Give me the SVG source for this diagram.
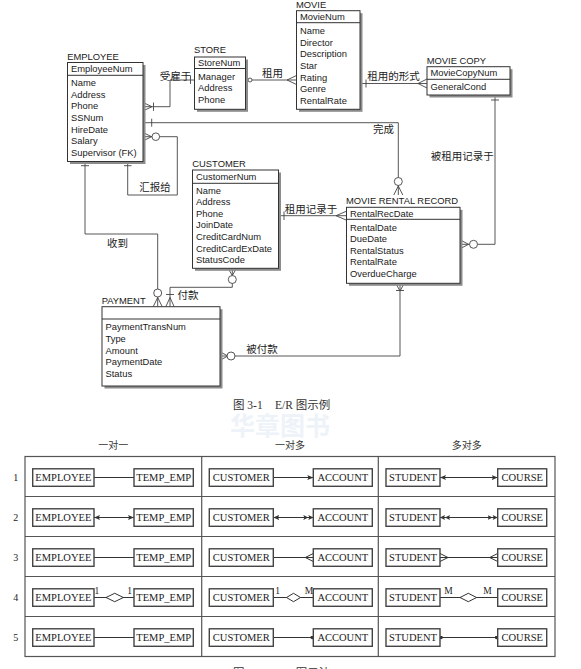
<svg xmlns="http://www.w3.org/2000/svg" width="581" height="669" viewBox="0 0 581 669">
<style>
.bg{fill:#fff}
.sh{fill:#8c8c8c}
.box{fill:#fff;stroke:#333;stroke-width:1}
.dv{stroke:#333;stroke-width:1}
.en{font-family:"Liberation Sans",Arial,sans-serif;font-size:9.4px;fill:#1a1a1a}
.lb{font-family:"Liberation Serif","Noto Sans CJK SC",serif;font-size:10.5px;fill:#222;text-anchor:middle}
.ln{fill:none;stroke:#444;stroke-width:0.9}
.mk{fill:none;stroke:#444;stroke-width:0.9}
.ci{fill:#fff;stroke:#444;stroke-width:0.9}
.tb{fill:none;stroke:#555;stroke-width:1.2}
.tbox{fill:#fff;stroke:#444;stroke-width:1.4}
.tt{font-family:"Liberation Serif","Times New Roman",serif;font-size:10.5px;fill:#1a1a1a;text-anchor:middle}
.hd{font-family:"Noto Sans CJK SC",sans-serif;font-size:10px;fill:#333;text-anchor:middle}
.num{font-family:"Liberation Serif",serif;font-size:10px;fill:#222;text-anchor:middle}
.tl{fill:none;stroke:#333;stroke-width:1}
.dm{fill:#fff;stroke:#333;stroke-width:1}
.sm{font-family:"Liberation Serif",serif;font-size:9.5px;fill:#222;text-anchor:middle}
.cap{font-family:"Liberation Serif","Noto Sans CJK SC",serif;font-size:11.5px;fill:#333}
.wm{font-family:"Noto Sans CJK SC",sans-serif;font-size:25px;font-weight:bold;fill:#eef3f9;text-anchor:middle}
</style>
<defs>
<marker id="arr" viewBox="0 0 6 5" refX="6" refY="2.5" markerWidth="6" markerHeight="5" markerUnits="userSpaceOnUse" orient="auto-start-reverse"><path d="M0,0 L6,2.5 L0,5 L1.2,2.5 z" fill="#333"/></marker>
<marker id="arr2" viewBox="0 0 10 5" refX="10" refY="2.5" markerWidth="10" markerHeight="5" markerUnits="userSpaceOnUse" orient="auto-start-reverse"><path d="M0,0 L5,2.5 L0,5 L1,2.5 z M5,0 L10,2.5 L5,5 L6,2.5 z" fill="#333"/></marker>
<marker id="crow" viewBox="0 0 8 9" refX="8" refY="4.5" markerWidth="8" markerHeight="9" markerUnits="userSpaceOnUse" orient="auto-start-reverse"><path d="M0,4.5 L8,0.5 M0,4.5 L8,4.5 M0,4.5 L8,8.5" fill="none" stroke="#333" stroke-width="1"/></marker>
<marker id="dot" viewBox="0 0 4 4" refX="3" refY="2" markerWidth="4" markerHeight="4" markerUnits="userSpaceOnUse" orient="auto-start-reverse"><circle cx="2" cy="2" r="1.8" fill="#333"/></marker>
</defs>
<rect class="bg" x="0" y="0" width="581" height="669"/>
<text class="wm" x="280" y="435">华章图书</text>

<g id="connectors">
<path class="ln" d="M143,106.7 H170 V80 H194.5"/>
<path class="mk" d="M152,106.7 L143,102.5 M152,106.7 L143,110.9 M153.5,102.5 V110.9 M190.5,76 V84"/>
<path class="ln" d="M245.7,80 H296.5"/>
<circle class="ci" cx="250" cy="80" r="2"/>
<path class="mk" d="M287,80 L296.5,75.5 M287,80 L296.5,84.5"/>
<path class="ln" d="M360,83.5 H427"/>
<path class="mk" d="M366,79.5 V87.5 M418,83.5 L427,79 M418,83.5 L427,88"/>
<path class="ln" d="M143,122.7 H398.3 V195"/>
<path class="mk" d="M151.7,118.7 V126.7 M398.3,186 L393.8,195 M398.3,186 L402.8,195"/>
<circle class="ci" cx="398.3" cy="181.5" r="4"/>
<path class="ln" d="M143,136.7 H177.3 V195 H127.7 V161"/>
<path class="mk" d="M151.5,136.7 L143,132.5 M151.5,136.7 L143,140.9 M124,165.7 H131.5"/>
<circle class="ci" cx="155.8" cy="136.7" r="3.8"/>
<path class="ln" d="M85,161 V234 H157.7 V306.7"/>
<path class="mk" d="M81,165.7 H89 M157.7,297.5 L153.2,306.7 M157.7,297.5 L162.2,306.7"/>
<circle class="ci" cx="157.7" cy="293" r="4"/>
<path class="ln" d="M232.3,268.3 V287.3 H170 V306.7"/>
<path class="mk" d="M232.3,275.5 L228.1,268.3 M232.3,275.5 L236.5,268.3 M166,294.5 H174 M170,297.5 L165.8,306.7 M170,297.5 L174.2,306.7"/>
<circle class="ci" cx="232.3" cy="279.5" r="4"/>
<path class="ln" d="M220,356 H400 V283.3"/>
<path class="mk" d="M228,356 L220,351.8 M228,356 L220,360.2 M400,291 L395.8,283.3 M400,291 L404.2,283.3 M396,290.5 H404"/>
<circle class="ci" cx="231" cy="356" r="4"/>
<path class="ln" d="M278.3,215.7 H346.5"/>
<path class="mk" d="M284,211.5 V220 M336,215.7 L346.5,211.2 M336,215.7 L346.5,220.2"/>
<path class="ln" d="M495,95 V244.3 H460"/>
<path class="mk" d="M491,100 H499 M468.5,244.3 L460,239.8 M468.5,244.3 L460,248.8"/>
<circle class="ci" cx="473.5" cy="244.3" r="4"/>

<g id="table-links">
<path class="tl" d="M94,477.5 H134"/>
<path class="tl" d="M273.3,477.5 H313.3" marker-end="url(#arr)"/>
<path class="tl" d="M440,477.5 H497.7" marker-start="url(#arr)" marker-end="url(#arr)"/>
<path class="tl" d="M94,517.5 H134" marker-start="url(#arr)" marker-end="url(#arr)"/>
<path class="tl" d="M273.3,517.5 H313.3" marker-start="url(#arr)" marker-end="url(#arr2)"/>
<path class="tl" d="M440,517.5 H497.7" marker-start="url(#arr2)" marker-end="url(#arr2)"/>
<path class="tl" d="M94,557.5 H134"/>
<path class="tl" d="M273.3,557.5 H313.3" marker-end="url(#crow)"/>
<path class="tl" d="M440,557.5 H497.7" marker-start="url(#crow)" marker-end="url(#crow)"/>
<path class="tl" d="M94,597.5 H134"/>
<path class="dm" d="M106,597.5 L114.7,593.3 L123.4,597.5 L114.7,601.7 z"/>
<path class="tl" d="M273.3,597.5 H313.3"/>
<path class="dm" d="M286.5,597.5 L293.5,593.3 L300.5,597.5 L293.5,601.7 z"/>
<path class="tl" d="M440,597.5 H497.7"/>
<path class="dm" d="M460,597.5 L468.3,593.3 L476.6,597.5 L468.3,601.7 z"/>
<path class="tl" d="M94,637.5 H134"/>
<path class="tl" d="M273.3,637.5 H313.3" marker-end="url(#dot)"/>
<path class="tl" d="M440,637.5 H497.7" marker-start="url(#dot)" marker-end="url(#dot)"/>
</g>
</g>

<g id="rel-labels">
<text class="lb" x="175.5" y="80">受雇于</text>
<text class="lb" x="272.5" y="77">租用</text>
<text class="lb" x="393.5" y="79.8">租用的形式</text>
<text class="lb" x="383.5" y="132.8">完成</text>
<text class="lb" x="155" y="191">汇报给</text>
<text class="lb" x="117.5" y="247">收到</text>
<text class="lb" x="188" y="298.8">付款</text>
<text class="lb" x="262" y="352.8">被付款</text>
<text class="lb" x="311" y="212.8">租用记录于</text>
<text class="lb" x="462.3" y="159.5">被租用记录于</text>
</g>

<g id="employee">
<text class="en" x="67.3" y="60.3">EMPLOYEE</text>
<rect class="sh" x="70" y="65" width="75.5" height="99"/>
<rect class="box" x="67.5" y="62.5" width="75.5" height="99"/>
<line class="dv" x1="67.5" y1="75.3" x2="143" y2="75.3"/>
<text class="en" x="71" y="72.4">EmployeeNum</text>
<text class="en" x="71" y="86">Name</text>
<text class="en" x="71" y="97.7">Address</text>
<text class="en" x="71" y="109.4">Phone</text>
<text class="en" x="71" y="121">SSNum</text>
<text class="en" x="71" y="132.7">HireDate</text>
<text class="en" x="71" y="144.4">Salary</text>
<text class="en" x="71" y="156">Supervisor (FK)</text>
</g>

<g id="store">
<text class="en" x="194" y="52.8">STORE</text>
<rect class="sh" x="197" y="59.5" width="51" height="52.3"/>
<rect class="box" x="194.5" y="57" width="51" height="52.3"/>
<line class="dv" x1="194.5" y1="68.5" x2="245.5" y2="68.5"/>
<text class="en" x="198" y="65.8">StoreNum</text>
<text class="en" x="198" y="79.5">Manager</text>
<text class="en" x="198" y="91">Address</text>
<text class="en" x="198" y="102.5">Phone</text>
</g>

<g id="movie">
<text class="en" x="296" y="8">MOVIE</text>
<rect class="sh" x="299" y="13.2" width="63.5" height="98.6"/>
<rect class="box" x="296.5" y="10.7" width="63.5" height="98.6"/>
<line class="dv" x1="296.5" y1="22.7" x2="360" y2="22.7"/>
<text class="en" x="300" y="20">MovieNum</text>
<text class="en" x="300" y="34.4">Name</text>
<text class="en" x="300" y="46">Director</text>
<text class="en" x="300" y="57.4">Description</text>
<text class="en" x="300" y="69">Star</text>
<text class="en" x="300" y="80.7">Rating</text>
<text class="en" x="300" y="92.4">Genre</text>
<text class="en" x="300" y="103.7">RentalRate</text>
</g>

<g id="movie-copy">
<text class="en" x="426.7" y="64">MOVIE COPY</text>
<rect class="sh" x="429.5" y="69.2" width="83" height="28.3"/>
<rect class="box" x="427" y="66.7" width="83" height="28.3"/>
<line class="dv" x1="427" y1="79.3" x2="510" y2="79.3"/>
<text class="en" x="430.5" y="76.2">MovieCopyNum</text>
<text class="en" x="430.5" y="90.4">GeneralCond</text>
</g>

<g id="customer">
<text class="en" x="192.3" y="167.4">CUSTOMER</text>
<rect class="sh" x="195" y="172.5" width="86" height="98.3"/>
<rect class="box" x="192.5" y="170" width="86" height="98.3"/>
<line class="dv" x1="192.5" y1="183.3" x2="278.5" y2="183.3"/>
<text class="en" x="196" y="179.6">CustomerNum</text>
<text class="en" x="196" y="194">Name</text>
<text class="en" x="196" y="205.4">Address</text>
<text class="en" x="196" y="216.7">Phone</text>
<text class="en" x="196" y="228.4">JoinDate</text>
<text class="en" x="196" y="240">CreditCardNum</text>
<text class="en" x="196" y="251.7">CreditCardExDate</text>
<text class="en" x="196" y="263.4">StatusCode</text>
</g>

<g id="movie-rental-record">
<text class="en" x="346" y="204">MOVIE RENTAL RECORD</text>
<rect class="sh" x="349" y="209.8" width="113.5" height="76"/>
<rect class="box" x="346.5" y="207.3" width="113.5" height="76"/>
<line class="dv" x1="346.5" y1="219.3" x2="460" y2="219.3"/>
<text class="en" x="350" y="216.7">RentalRecDate</text>
<text class="en" x="350" y="230.7">RentalDate</text>
<text class="en" x="350" y="242.4">DueDate</text>
<text class="en" x="350" y="253.7">RentalStatus</text>
<text class="en" x="350" y="265.4">RentalRate</text>
<text class="en" x="350" y="277">OverdueCharge</text>
</g>

<g id="payment">
<text class="en" x="101.7" y="304">PAYMENT</text>
<rect class="sh" x="104.5" y="309.2" width="118" height="79.3"/>
<rect class="box" x="102" y="306.7" width="118" height="79.3"/>
<line class="dv" x1="102" y1="319" x2="220" y2="319"/>
<text class="en" x="105.5" y="330.4">PaymentTransNum</text>
<text class="en" x="105.5" y="342.4">Type</text>
<text class="en" x="105.5" y="353.7">Amount</text>
<text class="en" x="105.5" y="365">PaymentDate</text>
<text class="en" x="105.5" y="376.7">Status</text>
</g>

<text class="cap" x="233" y="409">图 3-1<tspan x="275">E/R 图示例</tspan></text>

<g id="table">
<text class="hd" x="113.3" y="448.5">一对一</text>
<text class="hd" x="290" y="448.5">一对多</text>
<text class="hd" x="466.7" y="448.5">多对多</text>
<rect class="tb" x="25" y="456.5" width="530" height="200"/>
<path class="tb" d="M201.7,456.5 V656.5 M378.3,456.5 V656.5 M25,496.5 H555 M25,536.5 H555 M25,576.5 H555 M25,616.5 H555"/>
<text class="num" x="15.7" y="481">1</text>
<text class="num" x="15.7" y="521">2</text>
<text class="num" x="15.7" y="561">3</text>
<text class="num" x="15.7" y="601">4</text>
<text class="num" x="15.7" y="641">5</text>
<text class="sm" x="96.8" y="594">1</text>
<text class="sm" x="129.5" y="594">1</text>
<text class="sm" x="277.5" y="594">1</text>
<text class="sm" x="309" y="594">M</text>
<text class="sm" x="448.5" y="594">M</text>
<text class="sm" x="487.5" y="594">M</text>
</g>

<g id="t-employee">
<rect class="tbox" x="32.7" y="468.8" width="61.3" height="17.5"/><text class="tt" x="63.3" y="481">EMPLOYEE</text>
<rect class="tbox" x="32.7" y="508.8" width="61.3" height="17.5"/><text class="tt" x="63.3" y="521">EMPLOYEE</text>
<rect class="tbox" x="32.7" y="548.8" width="61.3" height="17.5"/><text class="tt" x="63.3" y="561">EMPLOYEE</text>
<rect class="tbox" x="32.7" y="588.8" width="61.3" height="17.5"/><text class="tt" x="63.3" y="601">EMPLOYEE</text>
<rect class="tbox" x="32.7" y="628.8" width="61.3" height="17.5"/><text class="tt" x="63.3" y="641">EMPLOYEE</text>
</g>
<g id="t-temp-emp">
<rect class="tbox" x="134" y="468.8" width="59.3" height="17.5"/><text class="tt" x="163.7" y="481">TEMP_EMP</text>
<rect class="tbox" x="134" y="508.8" width="59.3" height="17.5"/><text class="tt" x="163.7" y="521">TEMP_EMP</text>
<rect class="tbox" x="134" y="548.8" width="59.3" height="17.5"/><text class="tt" x="163.7" y="561">TEMP_EMP</text>
<rect class="tbox" x="134" y="588.8" width="59.3" height="17.5"/><text class="tt" x="163.7" y="601">TEMP_EMP</text>
<rect class="tbox" x="134" y="628.8" width="59.3" height="17.5"/><text class="tt" x="163.7" y="641">TEMP_EMP</text>
</g>
<g id="t-customer">
<rect class="tbox" x="209.3" y="468.8" width="64" height="17.5"/><text class="tt" x="241.3" y="481">CUSTOMER</text>
<rect class="tbox" x="209.3" y="508.8" width="64" height="17.5"/><text class="tt" x="241.3" y="521">CUSTOMER</text>
<rect class="tbox" x="209.3" y="548.8" width="64" height="17.5"/><text class="tt" x="241.3" y="561">CUSTOMER</text>
<rect class="tbox" x="209.3" y="588.8" width="64" height="17.5"/><text class="tt" x="241.3" y="601">CUSTOMER</text>
<rect class="tbox" x="209.3" y="628.8" width="64" height="17.5"/><text class="tt" x="241.3" y="641">CUSTOMER</text>
</g>
<g id="t-account">
<rect class="tbox" x="313.3" y="468.8" width="59" height="17.5"/><text class="tt" x="342.8" y="481">ACCOUNT</text>
<rect class="tbox" x="313.3" y="508.8" width="59" height="17.5"/><text class="tt" x="342.8" y="521">ACCOUNT</text>
<rect class="tbox" x="313.3" y="548.8" width="59" height="17.5"/><text class="tt" x="342.8" y="561">ACCOUNT</text>
<rect class="tbox" x="313.3" y="588.8" width="59" height="17.5"/><text class="tt" x="342.8" y="601">ACCOUNT</text>
<rect class="tbox" x="313.3" y="628.8" width="59" height="17.5"/><text class="tt" x="342.8" y="641">ACCOUNT</text>
</g>
<g id="t-student">
<rect class="tbox" x="386" y="468.8" width="54" height="17.5"/><text class="tt" x="413" y="481">STUDENT</text>
<rect class="tbox" x="386" y="508.8" width="54" height="17.5"/><text class="tt" x="413" y="521">STUDENT</text>
<rect class="tbox" x="386" y="548.8" width="54" height="17.5"/><text class="tt" x="413" y="561">STUDENT</text>
<rect class="tbox" x="386" y="588.8" width="54" height="17.5"/><text class="tt" x="413" y="601">STUDENT</text>
<rect class="tbox" x="386" y="628.8" width="54" height="17.5"/><text class="tt" x="413" y="641">STUDENT</text>
</g>
<g id="t-course">
<rect class="tbox" x="497.7" y="468.8" width="49" height="17.5"/><text class="tt" x="522.2" y="481">COURSE</text>
<rect class="tbox" x="497.7" y="508.8" width="49" height="17.5"/><text class="tt" x="522.2" y="521">COURSE</text>
<rect class="tbox" x="497.7" y="548.8" width="49" height="17.5"/><text class="tt" x="522.2" y="561">COURSE</text>
<rect class="tbox" x="497.7" y="588.8" width="49" height="17.5"/><text class="tt" x="522.2" y="601">COURSE</text>
<rect class="tbox" x="497.7" y="628.8" width="49" height="17.5"/><text class="tt" x="522.2" y="641">COURSE</text>
</g>

<text class="cap" x="233" y="677">图 3-2<tspan x="275">E/R 图示法</tspan></text>
</svg>
